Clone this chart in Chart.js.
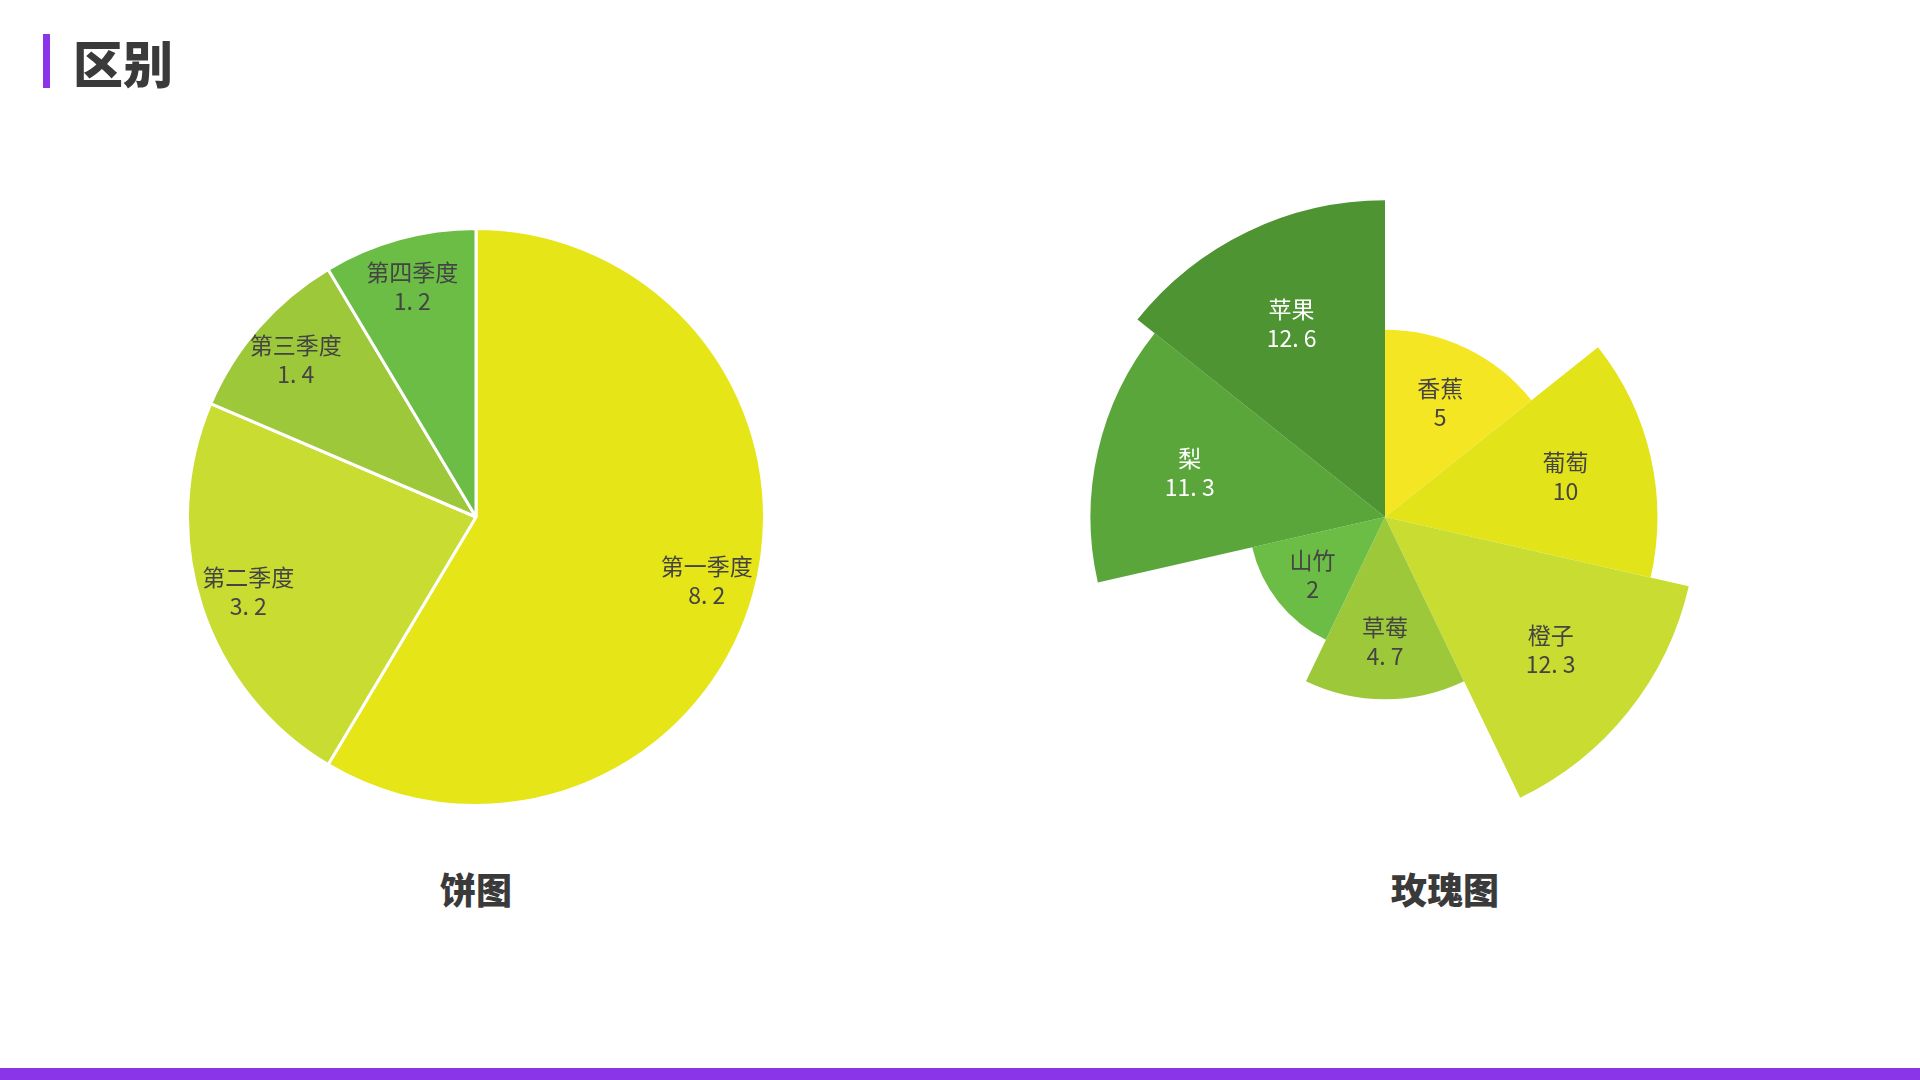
<!DOCTYPE html>
<html><head><meta charset="utf-8">
<script src="https://cdn.jsdelivr.net/npm/chart.js@4"></script>
<style>
body{margin:0;width:1920px;height:1080px;background:#fff;position:relative;overflow:hidden;font-family:"Noto Sans CJK SC",sans-serif;}
#bar{position:absolute;left:43px;top:34px;width:7px;height:54px;background:#8a35e8;}
#title{position:absolute;left:73px;top:28px;font-size:50px;font-weight:900;color:#3a3a3a;line-height:66px;}
#foot{position:absolute;left:0;bottom:0;width:1920px;height:12px;background:#8a35e8;}
.cap{position:absolute;top:862px;font-size:36px;font-weight:900;color:#3a3a3a;transform:translateX(-50%);}
#pieWrap{position:absolute;left:186px;top:227px;width:580px;height:580px;}
#roseWrap{position:absolute;left:1053px;top:185px;width:664px;height:664px;}
</style></head><body>
<div id="bar"></div><div id="title">区别</div>
<div id="pieWrap"><canvas id="pie"></canvas></div>
<div id="roseWrap"><canvas id="rose"></canvas></div>
<div class="cap" style="left:476px">饼图</div>
<div class="cap" style="left:1445px">玫瑰图</div>
<div id="foot"></div>
<script>
const pieLabels=["第一季度","第二季度","第三季度","第四季度"];
const pieValues=[8.2,3.2,1.4,1.2];
const pieColors=["#e5e517","#c8dc32","#9dc83a","#6bbd45"];
const roseLabels=["香蕉","葡萄","橙子","草莓","山竹","梨","苹果"];
const roseValues=[5,10,12.3,4.7,2,11.3,12.6];
const roseColors=["#f5e623","#e3e31a","#c8dc32","#9dc83a","#6bbd45","#5aa63a","#4e9432"];
const roseTextColors=["#444","#444","#444","#444","#444","#fff","#fff"];

function labelPlugin(frac,textColors){
  return {id:'lbl',afterDatasetsDraw(chart){
    const ctx=chart.ctx;const meta=chart.getDatasetMeta(0);
    const ds=chart.data.datasets[0];
    meta.data.forEach((arc,i)=>{
      const p=arc.getProps(['x','y','startAngle','endAngle','outerRadius'],true);
      const a=(p.startAngle+p.endAngle)/2;const r=Math.max(p.outerRadius*frac,80);
      const x=p.x+Math.cos(a)*r,y=p.y+Math.sin(a)*r;
      ctx.save();ctx.fillStyle=textColors?textColors[i]:'#444';
      ctx.font='23px "Noto Sans CJK SC"';ctx.textAlign='center';ctx.textBaseline='middle';
      ctx.fillText(chart.data.labels[i],x,y-14);
      ctx.fillText(String(ds.data[i]).replace('.','. '),x,y+15);
      ctx.restore();
    });
  }};
}
new Chart(document.getElementById('pie'),{type:'pie',
  data:{labels:pieLabels,datasets:[{data:pieValues,backgroundColor:pieColors,borderColor:'#fff',borderWidth:3}]},
  options:{responsive:true,maintainAspectRatio:false,animation:false,layout:{padding:0},
    plugins:{legend:{display:false},tooltip:{enabled:false}}},
  plugins:[labelPlugin(0.83)]});
new Chart(document.getElementById('rose'),{type:'polarArea',
  data:{labels:roseLabels,datasets:[{data:roseValues,backgroundColor:roseColors,borderWidth:0}]},
  options:{responsive:true,maintainAspectRatio:false,animation:false,layout:{padding:0},
    scales:{r:{display:false,min:-6,max:13.5}},
    plugins:{legend:{display:false},tooltip:{enabled:false}}},
  plugins:[labelPlugin(0.68,roseTextColors)]});
</script>
</body></html>
